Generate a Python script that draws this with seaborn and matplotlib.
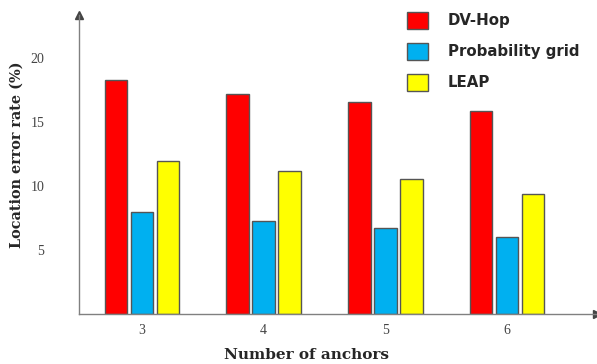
import matplotlib
matplotlib.use("Agg")
import matplotlib.pyplot as plt
import seaborn as sns
import pandas as pd

anchors = ["3", "4", "5", "6"]
methods = ["DV-Hop", "Probability grid", "LEAP"]
dv_hop = [18.3, 17.2, 16.6, 15.9]
prob_grid = [8.0, 7.3, 6.7, 6.0]
leap = [12.0, 11.2, 10.6, 9.4]
yticks = [5, 10, 15, 20]
colors = ["#FF0000", "#00B0F0", "#FFFF00"]

rows = []
for m, vals in zip(methods, [dv_hop, prob_grid, leap]):
    for a, v in zip(anchors, vals):
        rows.append({"anchors": a, "method": m, "rate": v})
df = pd.DataFrame(rows)

sns.set_style("white")
fig = plt.figure(figsize=(5.97, 3.64), dpi=100)
ax = fig.add_axes([79/597, 1-314/364, 1-79/597, (314-15)/364])

sns.barplot(data=df, x="anchors", y="rate", hue="method", order=anchors,
            hue_order=methods, palette=colors, width=0.64, gap=0.12,
            edgecolor="#555555", linewidth=1.0, saturation=1, ax=ax)

ax.set_ylim(0, 23.4)
ax.set_xlim(-0.518, 3.74)
ax.set_yticks(yticks)
ax.set_yticklabels([str(t) for t in yticks], family="Liberation Serif",
                   fontsize=10, color="#444444")
ax.set_xticks(range(len(anchors)))
ax.set_xticklabels(anchors, family="Liberation Serif", fontsize=10, color="#444444")
ax.tick_params(axis="y", length=0, pad=25)
ax.tick_params(axis="x", length=0, pad=7)
for s in ["top", "right"]:
    ax.spines[s].set_visible(False)
for s in ["left", "bottom"]:
    ax.spines[s].set_color("#808080")
    ax.spines[s].set_linewidth(1.0)
ax.plot(1, 0, ">", color="#444444", ms=6, transform=ax.transAxes, clip_on=False)
ax.plot(0, 1, "^", color="#444444", ms=6, transform=ax.transAxes, clip_on=False)

ax.set_xlabel("")
ax.set_ylabel("")
fig.text(17/597, 1-155/364, "Location error rate (%)", rotation=90, ha="center",
         va="center", family="DejaVu Serif", fontweight="bold", fontsize=10.4)
fig.text(307/597, 1-355/364, "Number of anchors", ha="center", va="center",
         family="DejaVu Serif", fontweight="bold", fontsize=11)

leg = ax.legend(frameon=False, loc="upper left", bbox_to_anchor=(393/597, 1.005),
                bbox_transform=fig.transFigure, prop={"family": "DejaVu Sans",
                "weight": "bold", "size": 10.8}, handlelength=1.45, handleheight=1.35,
                labelspacing=0.95, handletextpad=1.3)

fig.savefig("out.png", dpi=100)
